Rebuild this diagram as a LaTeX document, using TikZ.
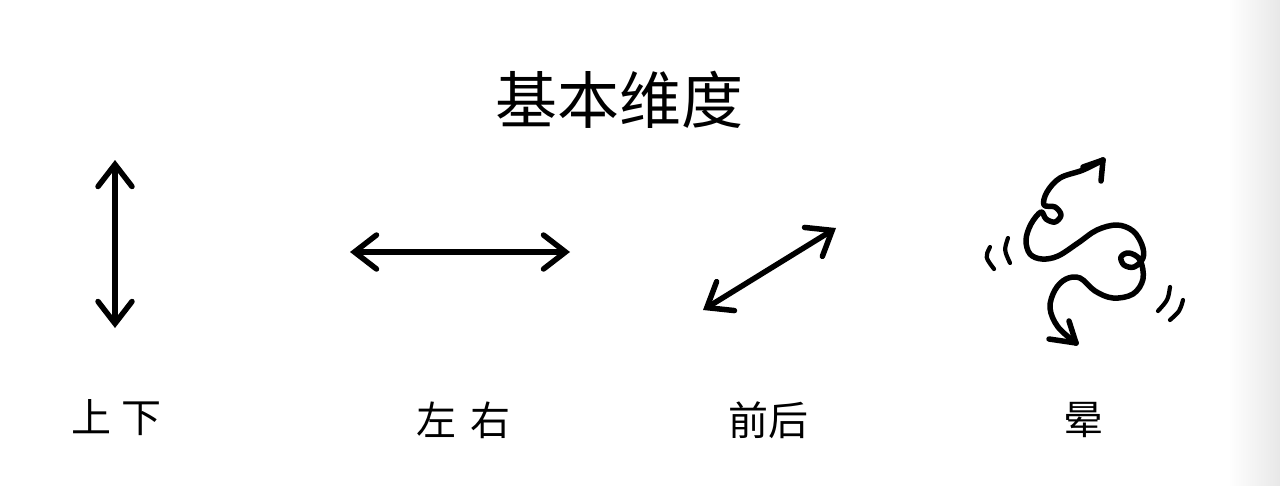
\documentclass[tikz,border=0pt]{standalone}
\usepackage{fontspec}
\newfontfamily\cjk{Noto Sans CJK SC}
\usetikzlibrary{arrows.meta}
\begin{document}
\begin{tikzpicture}[x=1pt,y=-1pt,
  ink/.style={line width=5.5pt,line cap=round,line join=round,black},
  dimarrow/.style={ink,{Straight Barb[length=22pt,width=34pt,line cap=round]}-{Straight Barb[length=22pt,width=34pt,line cap=round]}},
  lbl/.style={font=\cjk\fontsize{40}{44}\selectfont,inner sep=0pt},
  ttl/.style={font=\cjk\fontsize{62}{66}\selectfont,inner sep=0pt},
  motion/.style={line width=4.2pt,line cap=round}]
\useasboundingbox (0,0) rectangle (1280,485);
\shade[left color=white,right color=black!9,draw=none] (1228,0) rectangle (1280,485);
\node[ttl] (title) at (619,100) {基本维度};
% up-down
\coordinate (ud1) at (115,160);
\coordinate (ud2) at (115,328);
\draw[dimarrow] (ud1) -- (ud2);
% left-right
\coordinate (lr1) at (350,252);
\coordinate (lr2) at (570,252);
\draw[dimarrow] (lr1) -- (lr2);
% front-back
\coordinate (fb1) at (703,310);
\coordinate (fb2) at (836,228);
\draw[dimarrow] (fb1) -- (fb2);
% dizzy squiggle
\coordinate (sqA) at (1103,160);
\coordinate (sqB) at (1076,343);
\draw[ink] plot[smooth,tension=0.6] coordinates{(1103,160) (1083,170) (1060,178) (1047,192) (1044,205) (1055,207) (1061,215) (1055,222) (1046,219) (1041,212) (1031,224) (1026,240) (1030,254) (1042,259) (1058,256) (1078,243) (1097,230) (1117,225) (1133,231) (1142,245) (1143,258) (1134,267) (1124,265) (1121,257) (1129,253) (1140,260) (1143,279) (1133,294) (1113,298) (1095,291) (1080,278) (1066,279) (1055,290) (1050,308) (1058,327) (1076,343)};
\draw[ink] (sqA) -- (1083,167);
\draw[ink] (sqA) -- (1101,181);
\draw[ink] (sqB) -- (1049,339);
\draw[ink] (sqB) -- (1069,321);
% motion marks
\draw[motion] (990,247) .. controls (985,257) .. (994,269);
\draw[motion] (1008,238) .. controls (1004,250) .. (1010,263);
\draw[motion] (1170,287) .. controls (1168,300) .. (1158,311);
\draw[motion] (1183,300) .. controls (1180,311) .. (1170,320);
% labels
\node[lbl] (l1) at (116,418) {上\hspace{10pt}下};
\node[lbl] (l2) at (463,420) {左\hspace{14pt}右};
\node[lbl] (l3) at (768,420) {前后};
\node[lbl] (l4) at (1083,420) {晕};
\end{tikzpicture}
\end{document}
